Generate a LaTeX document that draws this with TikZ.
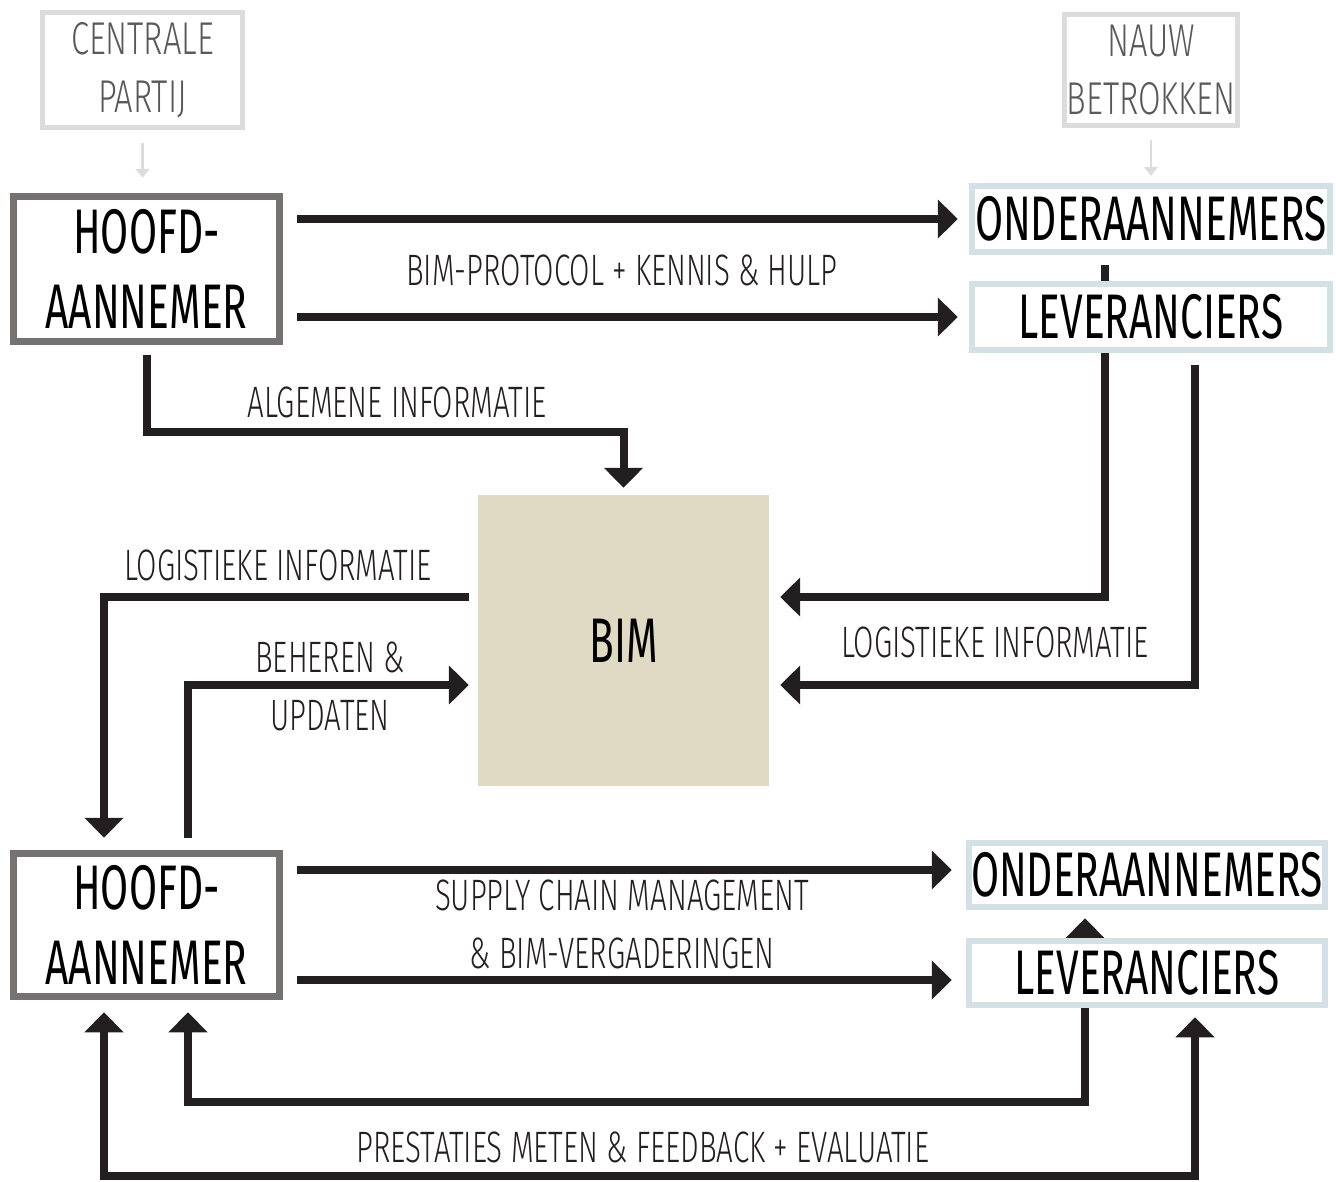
\documentclass[tikz,border=0pt]{standalone}
\usepackage{fontspec}
\setmainfont{Fira Sans}[FakeStretch=0.645]
\newfontfamily\thinfont{Fira Sans Light}[FakeStretch=0.67]
\newfontfamily\notefont{Fira Sans Light}[FakeStretch=0.71]
\usetikzlibrary{arrows.meta,calc,backgrounds}
\definecolor{arrowc}{HTML}{231F20}
\definecolor{hoofdc}{HTML}{767272}
\definecolor{partc}{HTML}{D3E0E5}
\definecolor{notec}{HTML}{DCDCDC}
\definecolor{bimc}{HTML}{E0D9C3}
\tikzset{
  mainbox/.style={draw=hoofdc,line width=7.5pt,fill=white,inner sep=0pt,align=center,
                  minimum width=266pt,minimum height=145pt,font=\fontsize{63}{75}\selectfont},
  partbox/.style={draw=partc,line width=6.5pt,fill=white,inner sep=0pt,
                  minimum width=358pt,minimum height=66pt,font=\fontsize{63}{75}\selectfont},
  notebox/.style={draw=notec,line width=5pt,inner sep=0pt,align=center,text=black!65,
                  font=\notefont\fontsize{46}{58}\selectfont},
  lbl/.style={align=center,text=arrowc,font=\thinfont\fontsize{44}{58}\selectfont},
  fl/.style={draw=arrowc,line width=8pt,-{Triangle[length=20pt,width=38pt]}},
  flb/.style={fl,{Triangle[length=20pt,width=38pt]}-{Triangle[length=20pt,width=38pt]}},
  notefl/.style={draw=notec,line width=2.5pt,-{Triangle[length=9pt,width=14pt]}},
}

\begin{document}
\begin{tikzpicture}[x=1pt,y=-1pt]
\useasboundingbox (0,0) rectangle (1336,1181);
% parties
\node[notebox,minimum width=200pt,minimum height=115pt] (central) at (142.5,70) {CENTRALE\\PARTIJ};
\node[notebox,minimum width=173pt,minimum height=111pt] (nauw) at (1151,70) {NAUW\\BETROKKEN};
\node[mainbox] (hoofd1) at (146.5,269) {HOOFD-\\AANNEMER};
\node[partbox] (onder1) at (1151,219) {ONDERAANNEMERS};
\node[partbox] (lev1) at (1151,317) {LEVERANCIERS};
\node[fill=bimc,minimum size=291pt,inner sep=0pt,font=\fontsize{63}{75}\selectfont] (bim) at (623.5,640.5) {BIM};
\node[mainbox,minimum height=143pt] (hoofd2) at (146.5,925) {HOOFD-\\AANNEMER};
\node[partbox,minimum width=356pt,minimum height=64pt] (onder2) at (1147,875) {ONDERAANNEMERS};
\node[partbox,minimum width=356pt,minimum height=64pt] (lev2) at (1147,973) {LEVERANCIERS};
% labels
\node[lbl] (protocol) at (622,270) {BIM-PROTOCOL + KENNIS \& HULP};
\node[lbl] (algemeen) at (397,402) {ALGEMENE INFORMATIE};
\node[lbl] (logist1) at (278,565) {LOGISTIEKE INFORMATIE};
\node[lbl] (beheer) at (330,686) {BEHEREN \&\\UPDATEN};
\node[lbl] (logist2) at (995,642) {LOGISTIEKE INFORMATIE};
\node[lbl] (supply) at (622,924) {SUPPLY CHAIN MANAGEMENT\\\& BIM-VERGADERINGEN};
\node[lbl] (prestatie) at (643,1147) {PRESTATIES METEN \& FEEDBACK + EVALUATIE};
% connectors
\draw[notefl] ([yshift=-13pt]central.south) -- ([yshift=15pt]central.south |- hoofd1.north);
\draw[notefl] ([yshift=-12pt]nauw.south) -- ([yshift=7pt]nauw.south |- onder1.north);
\draw[fl] ([xshift=14pt]hoofd1.east |- onder1.west) -- ([xshift=-11pt]onder1.west);
\draw[fl] ([xshift=14pt]hoofd1.east |- lev1.west) -- ([xshift=-11pt]lev1.west);
\draw[fl] ([yshift=-10pt]hoofd1.south) -- ++(0,77) -| ([yshift=7pt]bim.north);
\draw[fl] ($(bim.west)+(-9,-43.5)$) -| ([xshift=-42.5pt,yshift=12pt]hoofd2.north);
\draw[fl] ([xshift=41.5pt,yshift=12pt]hoofd2.north) |- ($(bim.west)+(-9,44.5)$);
\draw[fl] ([xshift=44pt,yshift=-12pt]lev1.south) |- ($(bim.east)+(11,44.5)$);
\draw[fl] ([xshift=14pt,yshift=5pt]hoofd2.east |- onder2.west) -- ([xshift=-14pt,yshift=5pt]onder2.west);
\draw[fl] ([xshift=14pt,yshift=-7pt]hoofd2.east |- lev2.west) -- ([xshift=-14pt,yshift=-7pt]lev2.west);
\draw[flb] ([xshift=48pt,yshift=-9pt]lev2.south) -- ++(0,159) -| ([xshift=-42.5pt,yshift=-12pt]hoofd2.south);
\begin{scope}[on background layer]
\draw[fl] ([xshift=-46pt,yshift=-10pt]onder1.south) |- ($(bim.east)+(11,-43.5)$);
\draw[flb] ([xshift=-62pt,yshift=-8pt]onder2.south) -- ++(0,184) -| ([xshift=41.5pt,yshift=-12pt]hoofd2.south);
\end{scope}
\end{tikzpicture}
\end{document}
